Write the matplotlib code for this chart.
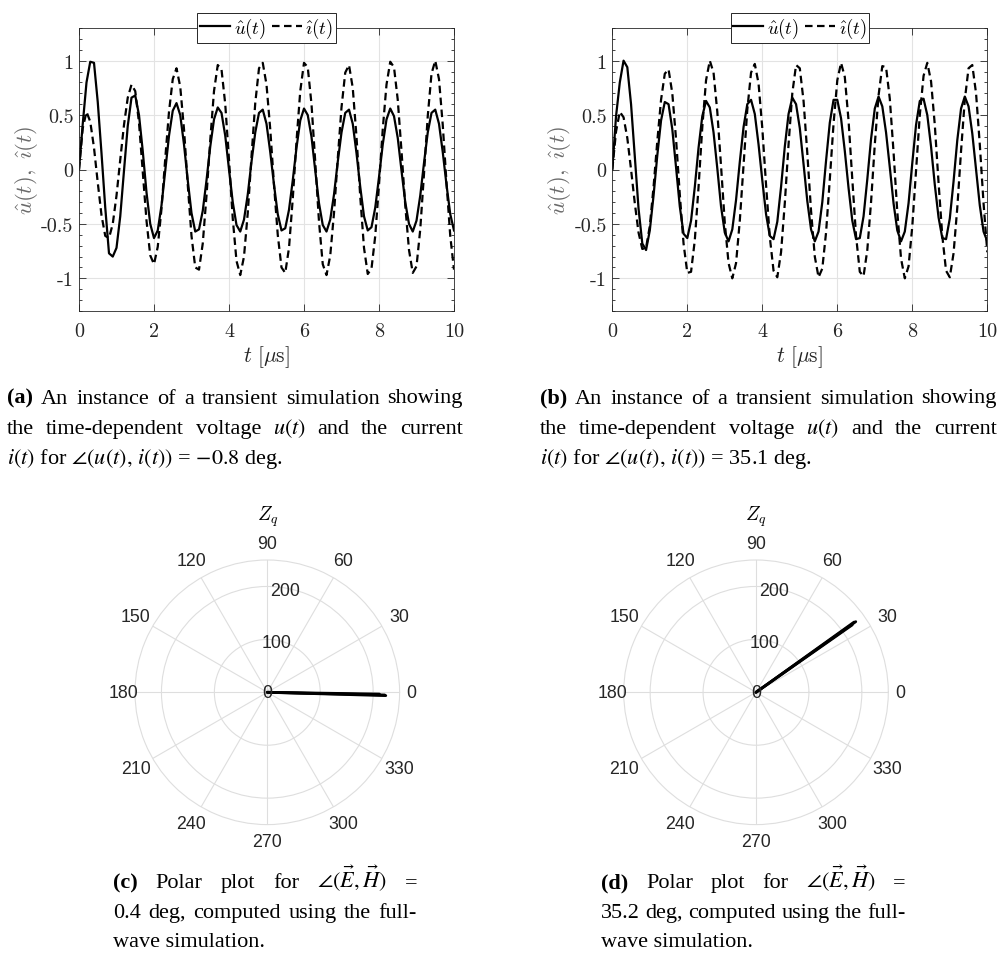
import numpy as np
import matplotlib
matplotlib.use("Agg")
import matplotlib.pyplot as plt

plt.rcParams['mathtext.fontset'] = 'cm'
plt.rcParams['axes.unicode_minus'] = False

W, H = 998, 954
DARK = '#262626'

# --- transient simulation, sampled every 0.1 us ---
t_us = np.linspace(0, 10, 101)

u_a = [0.00, 0.42, 0.80, 0.99, 0.98, 0.62, 0.15, -0.35, -0.77, -0.80,
       -0.72, -0.43, -0.01, 0.40, 0.66, 0.68, 0.50, 0.17, -0.21, -0.50,
       -0.63, -0.56, -0.33, -0.01, 0.31, 0.54, 0.61, 0.50, 0.23, -0.10,
       -0.40, -0.57, -0.55, -0.38, -0.10, 0.21, 0.46, 0.57, 0.52, 0.31,
       0.00, -0.30, -0.51, -0.57, -0.46, -0.23, 0.07, 0.34, 0.52, 0.55,
       0.42, 0.16, -0.14, -0.41, -0.56, -0.54, -0.37, -0.10, 0.20, 0.45,
       0.56, 0.50, 0.30, -0.01, -0.31, -0.51, -0.57, -0.46, -0.23, 0.07,
       0.34, 0.52, 0.55, 0.42, 0.15, -0.16, -0.43, -0.56, -0.53, -0.35,
       -0.07, 0.23, 0.46, 0.56, 0.49, 0.29, -0.01, -0.30, -0.50, -0.57,
       -0.47, -0.24, 0.06, 0.34, 0.52, 0.55, 0.42, 0.16, -0.14, -0.41,
       -0.56]
i_a = [0.00, 0.38, 0.53, 0.44, 0.20, -0.12, -0.42, -0.61, -0.63, -0.50,
       -0.24, 0.09, 0.41, 0.66, 0.78, 0.72, 0.43, -0.02, -0.47, -0.79,
       -0.87, -0.71, -0.36, 0.10, 0.53, 0.83, 0.93, 0.76, 0.37, -0.14,
       -0.61, -0.90, -0.92, -0.68, -0.24, 0.27, 0.72, 0.96, 0.92, 0.60,
       0.09, -0.45, -0.84, -0.97, -0.80, -0.40, 0.12, 0.61, 0.93, 0.98,
       0.78, 0.37, -0.14, -0.60, -0.90, -0.95, -0.72, -0.27, 0.26, 0.72,
       0.98, 0.94, 0.60, 0.07, -0.48, -0.87, -0.97, -0.79, -0.40, 0.10,
       0.57, 0.89, 0.96, 0.75, 0.30, -0.25, -0.72, -0.96, -0.91, -0.61,
       -0.14, 0.37, 0.78, 0.99, 0.94, 0.64, 0.17, -0.33, -0.74, -0.95,
       -0.89, -0.55, -0.04, 0.49, 0.88, 1.00, 0.83, 0.41, -0.12, -0.61,
       -0.92]
u_b = [0.00, 0.49, 0.80, 1.00, 0.94, 0.60, 0.12, -0.36, -0.68, -0.74,
       -0.56, -0.24, 0.13, 0.45, 0.62, 0.60, 0.37, 0.02, -0.34, -0.59,
       -0.63, -0.47, -0.16, 0.20, 0.49, 0.63, 0.57, 0.34, 0.01, -0.34,
       -0.58, -0.66, -0.55, -0.28, 0.07, 0.39, 0.60, 0.64, 0.51, 0.23,
       -0.10, -0.41, -0.61, -0.64, -0.48, -0.16, 0.21, 0.51, 0.66, 0.60,
       0.38, 0.05, -0.29, -0.55, -0.66, -0.57, -0.30, 0.08, 0.43, 0.64,
       0.64, 0.47, 0.17, -0.17, -0.47, -0.64, -0.63, -0.43, -0.09, 0.28,
       0.56, 0.67, 0.58, 0.34, 0.02, -0.31, -0.56, -0.66, -0.57, -0.31,
       0.06, 0.41, 0.63, 0.65, 0.50, 0.21, -0.14, -0.44, -0.63, -0.64,
       -0.45, -0.11, 0.27, 0.56, 0.67, 0.58, 0.33, 0.00, -0.33, -0.57,
       -0.66]
i_b = [0.00, 0.35, 0.53, 0.48, 0.29, 0.00, -0.31, -0.58, -0.73, -0.72,
       -0.52, -0.16, 0.26, 0.64, 0.88, 0.92, 0.70, 0.28, -0.23, -0.68,
       -0.95, -0.94, -0.65, -0.16, 0.39, 0.82, 1.00, 0.89, 0.53, 0.03,
       -0.49, -0.86, -1.00, -0.86, -0.47, 0.04, 0.55, 0.89, 0.97, 0.79,
       0.38, -0.14, -0.62, -0.93, -0.99, -0.76, -0.31, 0.23, 0.70, 0.96,
       0.93, 0.63, 0.15, -0.38, -0.80, -0.99, -0.91, -0.58, -0.09, 0.42,
       0.82, 0.98, 0.85, 0.45, -0.09, -0.61, -0.94, -0.98, -0.74, -0.30,
       0.23, 0.68, 0.95, 0.94, 0.65, 0.16, -0.39, -0.82, -1.00, -0.89,
       -0.52, -0.01, 0.50, 0.86, 0.98, 0.81, 0.41, -0.12, -0.61, -0.93,
       -0.99, -0.77, -0.35, 0.17, 0.64, 0.93, 0.96, 0.70, 0.23, -0.31,
       -0.76]

x_ticks = [0, 2, 4, 6, 8, 10]
y_ticks = [-1, -0.5, 0, 0.5, 1]
y_tick_labels = ['-1', '-0.5', '0', '0.5', '1']

# --- polar (compass) data: angle in deg, magnitude ---
c_theta = [-1.3, -0.9, -1.6]
c_r = [222, 212, 224]
d_theta = [35.3, 35.0, 35.6]
d_r = [231, 222, 228]
theta_ticks = list(range(0, 360, 30))
r_ticks = [0, 100, 200]
r_max = 250


def px(x0, y_top, w, h):
    return [x0 / W, 1 - (y_top + h) / H, w / W, h / H]


fig = plt.figure(figsize=(W / 100, H / 100), dpi=100)


def time_plot(rect, u, i):
    ax = fig.add_axes(rect)
    lu, = ax.plot(t_us, u, color='black', lw=1.6, label=r'$\hat{u}(t)$')
    li, = ax.plot(t_us, i, color='black', lw=1.6, ls=(0, (3.4, 2.0)),
                  label=r'$\hat{\imath}(t)$')
    ax.set_xlim(0, 10)
    ax.set_ylim(-1.3, 1.3)
    ax.set_xticks(x_ticks, [str(v) for v in x_ticks], fontfamily='cmr10', fontsize=14.5)
    ax.set_yticks(y_ticks, y_tick_labels, fontfamily='cmr10', fontsize=14.5)
    ax.set_yticks(np.arange(-1.3, 1.31, 0.1), minor=True)
    ax.tick_params(which='both', direction='in', top=True, right=True,
                   colors=DARK, width=0.6)
    ax.tick_params(which='major', length=5)
    ax.tick_params(axis='x', which='major', pad=8)
    ax.tick_params(axis='y', which='major', pad=4)
    ax.tick_params(which='minor', length=2.5)
    ax.grid(True, color='#e3e3e3', lw=0.8)
    ax.set_axisbelow(True)
    for s in ax.spines.values():
        s.set_color(DARK)
        s.set_linewidth(0.6)
    ax.set_xlabel(r'$t\ [\mu\mathrm{s}]$', fontsize=15.5, color=DARK)
    ax.xaxis.set_label_coords(0.5, -0.115)
    ax.set_ylabel(r'$\hat{u}(t),\ \hat{\imath}(t)$', fontsize=16.5, color='#6a6a6a')
    ax.yaxis.set_label_coords(-0.105, 0.5)
    leg = ax.legend(handles=[lu, li], loc='center', bbox_to_anchor=(0.5, 1.0),
                    ncol=2, fontsize=13.5, frameon=True, fancybox=False,
                    edgecolor=DARK, framealpha=1, borderpad=0.15,
                    handlelength=1.6, handletextpad=0.2, columnspacing=0.3,
                    borderaxespad=0)
    leg.get_frame().set_linewidth(0.7)
    return ax


def polar_plot(cx, cy, R, thetas, rs):
    ax = fig.add_axes(px(cx - R, cy - R, 2 * R, 2 * R), projection='polar')
    for th, r in zip(thetas, rs):
        ax.plot([0, np.deg2rad(th)], [0, r], color='black', lw=2.0,
                solid_capstyle='round')
    ax.set_ylim(0, r_max)
    ax.set_rticks(r_ticks[1:])
    ax.set_yticklabels([])
    ax.set_xticks(np.deg2rad(theta_ticks))
    ax.set_xticklabels([])
    ax.grid(True, color='#dedede', lw=0.8)
    ax.spines['polar'].set_color('#dedede')
    ax.spines['polar'].set_linewidth(0.8)
    for th in theta_ticks:
        if th % 180 == 0:
            rl = 272
        elif th % 90 == 0:
            rl = 281
        else:
            rl = 287
        ax.text(np.deg2rad(th), rl, str(th), ha='center', va='center',
                fontsize=12.8, family='Liberation Sans', color=DARK, clip_on=False)
    for r in r_ticks:
        ax.text(np.deg2rad(80 if r else 0), max(r - 4, 0), str(r), ha='center',
                va='center', fontsize=12.8, family='Liberation Sans', color=DARK,
                clip_on=False)
    fig.text(cx / W, 1 - 517 / H, r'$Z_q$', ha='center', va='center', fontsize=14)
    return ax


time_plot(px(79, 29, 375, 283), u_a, i_a)
time_plot(px(612.3, 29, 375, 283), u_b, i_b)
polar_plot(267.3, 693.3, 132.3, c_theta, c_r)
polar_plot(756, 693.3, 132.3, d_theta, d_r)

# --- captions ---
renderer = fig.canvas.get_renderer()
CAP = 16


def cap_line(parts, x0, y, x1=None):
    texts = []
    for s, w in parts:
        texts.append(fig.text(x0 / W, 1 - y / H, s, fontsize=CAP,
                              family='Liberation Serif', weight=w,
                              math_fontfamily='stix', ha='left', va='baseline',
                              color='black'))
    if x1 is None or len(texts) < 2:
        return
    widths = [tx.get_window_extent(renderer).width for tx in texts]
    gap = (x1 - x0 - sum(widths)) / (len(texts) - 1)
    x = x0
    for tx, w in zip(texts, widths):
        tx.set_x(x / W)
        x += w + gap


def words(s, first_bold=False):
    out = [(w, 'normal') for w in s.split(' ')]
    if first_bold:
        out[0] = (out[0][0], 'bold')
    return out


for lab, x0, x1, ang in [('(a)', 7.3, 463, r'$-0.8$'), ('(b)', 540, 997, '35.1')]:
    cap_line(words(lab + ' An instance of a transient simulation showing', True), x0, 403.5, x1)
    cap_line(words('the time-dependent voltage $u(t)$ and the current'), x0, 434, x1)
    cap_line([(r'$i(t)$ for $\angle(u(t),\, i(t))$ = ' + ang + ' deg.', 'normal')], x0, 464.5)

for lab, x0, x1, ang in [('(c)', 113, 417, '0.4'), ('(d)', 601, 906, '35.2')]:
    cap_line(words(lab + r' Polar plot for $\angle(\vec{E},\vec{H})$ =', True), x0, 888.5, x1)
    cap_line(words(ang + ' deg, computed using the full-'), x0, 918, x1)
    cap_line([('wave simulation.', 'normal')], x0, 947)

fig.savefig('out.png', dpi=100)
